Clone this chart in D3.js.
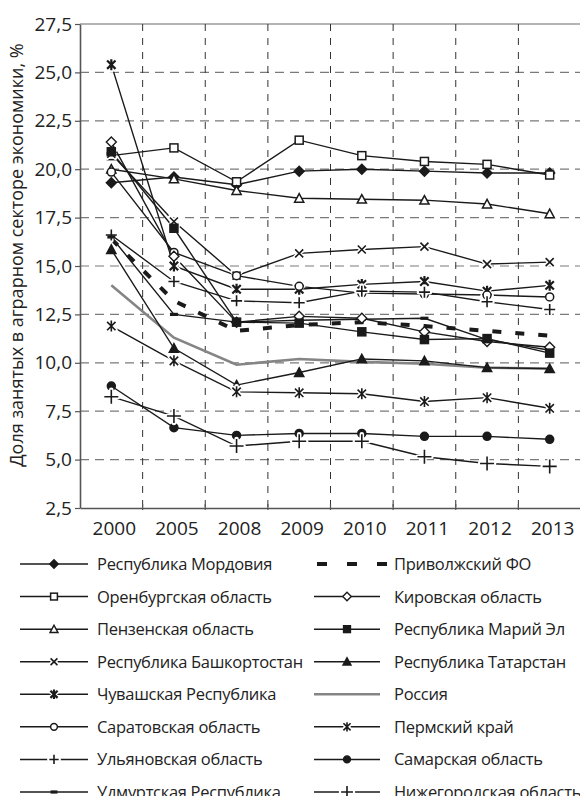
<!DOCTYPE html>
<html>
<head>
<meta charset="utf-8">
<script src="https://cdn.jsdelivr.net/npm/d3@7"></script>
<style>
  html, body { margin: 0; padding: 0; background: #fff; }
  svg { display: block; font-family: "Open Sans", "DejaVu Sans", sans-serif; }
</style>
</head>
<body>
<svg id="chart" width="580" height="796"></svg>
<script>
// Categories and axis ticks
const years = ["2000", "2005", "2008", "2009", "2010", "2011", "2012", "2013"];
const yTicks = [2.5, 5, 7.5, 10, 12.5, 15, 17.5, 20, 22.5, 25, 27.5];
const yTitle = "Доля занятых в аграрном секторе экономики, %";

// Share of employed in agriculture, %, by region
const mordovia      = [19.3, 19.6, 19.2, 19.9, 20.0, 19.9, 19.8, 19.8];
const orenburg      = [20.7, 21.1, 19.35, 21.5, 20.7, 20.4, 20.25, 19.7];
const penza         = [20.0, 19.5, 18.9, 18.5, 18.45, 18.4, 18.2, 17.7];
const bashkortostan = [20.8, 17.3, 14.5, 15.65, 15.85, 16.0, 15.1, 15.2];
const chuvashia     = [25.4, 15.0, 13.8, 13.8, 14.05, 14.2, 13.7, 14.0];
const saratov       = [19.85, 15.7, 14.5, 13.95, 13.6, 13.55, 13.5, 13.4];
const ulyanovsk     = [16.6, 14.2, 13.2, 13.1, 13.7, 13.65, 13.15, 12.75];
const udmurtia      = [16.5, 12.5, 12.1, 12.2, 12.25, 12.3, 11.2, 10.65];
const volgaFD       = [16.4, 13.2, 11.65, 11.95, 12.1, 11.9, 11.65, 11.4];
const kirov         = [21.4, 15.5, 12.1, 12.4, 12.3, 11.6, 11.1, 10.8];
const mariEl        = [20.9, 16.95, 12.1, 12.05, 11.6, 11.2, 11.25, 10.5];
const tatarstan     = [15.85, 10.75, 8.85, 9.5, 10.2, 10.1, 9.75, 9.7];
const russia        = [14.0, 11.3, 9.9, 10.2, 10.05, 9.95, 9.75, 9.7];
const perm          = [11.9, 10.1, 8.5, 8.45, 8.4, 8.0, 8.2, 7.65];
const samara        = [8.8, 6.65, 6.25, 6.35, 6.35, 6.2, 6.2, 6.05];
const nizhny        = [8.25, 7.25, 5.7, 5.95, 5.95, 5.15, 4.8, 4.65];

// Series: legend column 1 then column 2
const leftColumn = [
  { name: "Республика Мордовия",     values: mordovia,      marker: "diamondFilled" },
  { name: "Оренбургская область",    values: orenburg,      marker: "squareOpen" },
  { name: "Пензенская область",      values: penza,         marker: "triangleOpen" },
  { name: "Республика Башкортостан", values: bashkortostan, marker: "cross" },
  { name: "Чувашская Республика",    values: chuvashia,     marker: "starBold" },
  { name: "Саратовская область",     values: saratov,       marker: "circleOpen" },
  { name: "Ульяновская область",     values: ulyanovsk,     marker: "plus" },
  { name: "Удмуртская Республика",   values: udmurtia,      marker: "dash" }
];
const rightColumn = [
  { name: "Приволжский ФО",          values: volgaFD,   marker: null, style: "dashed" },
  { name: "Кировская область",       values: kirov,     marker: "diamondOpen" },
  { name: "Республика Марий Эл",     values: mariEl,    marker: "squareFilled" },
  { name: "Республика Татарстан",    values: tatarstan, marker: "triangleFilled" },
  { name: "Россия",                  values: russia,    marker: null, style: "gray" },
  { name: "Пермский край",           values: perm,      marker: "star" },
  { name: "Самарская область",       values: samara,    marker: "circleFilled" },
  { name: "Нижегородская область",   values: nizhny,    marker: "plusLarge" }
];

const svg = d3.select("#chart");
const ink = "#1a1a1a";
const textInk = "#222";
const plot = { left: 80, right: 581, top: 24, bottom: 508 };

const x = d3.scaleBand().domain(years).range([plot.left, plot.right]);
const y = d3.scaleLinear().domain([2.5, 27.5]).range([plot.bottom, plot.top]);
const cx = yr => x(yr) + x.bandwidth() / 2;

// Horizontal grid
svg.append("g").selectAll("line")
  .data(yTicks.filter(t => t > 2.5))
  .join("line")
  .attr("x1", plot.left).attr("x2", 580)
  .attr("y1", d => y(d)).attr("y2", d => y(d))
  .attr("stroke", d => d === 27.5 ? "#9a9a9a" : "#7a7a7a")
  .attr("stroke-width", d => d === 27.5 ? 1.6 : 1.2)
  .attr("stroke-dasharray", d => d === 27.5 ? null : "9,6");

// Vertical grid at category boundaries
svg.append("g").selectAll("line")
  .data(years.slice(1))
  .join("line")
  .attr("x1", d => x(d)).attr("x2", d => x(d))
  .attr("y1", plot.top).attr("y2", plot.bottom)
  .attr("stroke", "#333")
  .attr("stroke-width", 1)
  .attr("stroke-dasharray", "7,7");

// Y axis
const yAxis = svg.append("g")
  .attr("transform", `translate(${plot.left},0)`)
  .call(d3.axisLeft(y).tickValues(yTicks)
    .tickFormat(d => d3.format(".1f")(d).replace(".", ","))
    .tickSize(5).tickSizeOuter(0).tickPadding(3));
yAxis.select(".domain").attr("stroke", "#555").attr("stroke-width", 1.6);
yAxis.selectAll(".tick line").attr("stroke", "#555").attr("stroke-width", 1.2);
yAxis.selectAll(".tick text")
  .attr("font-size", 19).attr("fill", textInk)
  .attr("font-family", "'Open Sans', sans-serif");

// X axis: labels at band centres, tick marks at band boundaries
const xAxis = svg.append("g")
  .attr("transform", `translate(0,${plot.bottom})`)
  .call(d3.axisBottom(x).tickSize(0).tickSizeOuter(0).tickPadding(14));
xAxis.select(".domain").attr("stroke", "#555").attr("stroke-width", 1.6);
xAxis.selectAll(".tick text")
  .attr("font-size", 19).attr("fill", textInk)
  .attr("font-family", "'Open Sans', sans-serif")
  .attr("dx", 3);
xAxis.append("g").selectAll("line")
  .data(years.slice(1))
  .join("line")
  .attr("x1", d => x(d)).attr("x2", d => x(d))
  .attr("y1", -4).attr("y2", 2)
  .attr("stroke", "#555").attr("stroke-width", 1.2);

// Y axis title
svg.append("text")
  .attr("transform", `translate(23,255) rotate(-90)`)
  .attr("text-anchor", "middle")
  .attr("font-size", 18)
  .attr("fill", textInk)
  .text(yTitle);

// Marker shapes
function drawMarker(g, type, s) {
  const k = s || 1;
  const halo = (path, w) => {
    g.append("path").attr("d", path).attr("fill", "none")
      .attr("stroke", "#fff").attr("stroke-width", w + 3).attr("stroke-linecap", "round");
    g.append("path").attr("d", path).attr("fill", "none")
      .attr("stroke", ink).attr("stroke-width", w);
  };
  switch (type) {
    case "diamondFilled":
    case "diamondOpen": {
      const h = 5 * k;
      g.append("path").attr("d", `M0,${-h}L${h},0L0,${h}L${-h},0Z`)
        .attr("fill", type === "diamondFilled" ? ink : "#fff")
        .attr("stroke", ink).attr("stroke-width", 1.4);
      break;
    }
    case "squareOpen":
    case "squareFilled": {
      const h = 4 * k;
      g.append("rect").attr("x", -h).attr("y", -h).attr("width", 2 * h).attr("height", 2 * h)
        .attr("fill", type === "squareFilled" ? ink : "#fff")
        .attr("stroke", ink).attr("stroke-width", 1.5);
      break;
    }
    case "triangleOpen":
    case "triangleFilled": {
      const h = 4.6 * k;
      g.append("path").attr("d", `M0,${-h}L${h},${h * 0.85}L${-h},${h * 0.85}Z`)
        .attr("fill", type === "triangleFilled" ? ink : "#fff")
        .attr("stroke", ink).attr("stroke-width", 1.5);
      break;
    }
    case "circleOpen":
    case "circleFilled": {
      g.append("circle").attr("r", 4 * k)
        .attr("fill", type === "circleFilled" ? ink : "#fff")
        .attr("stroke", ink).attr("stroke-width", 1.5);
      break;
    }
    case "cross": {
      const h = 4 * k;
      halo(`M${-h},${-h}L${h},${h}M${h},${-h}L${-h},${h}`, 1.6);
      break;
    }
    case "star":
    case "starBold": {
      const h = 4.2 * k, v = 5.5 * k;
      halo(`M${-h},${-h}L${h},${h}M${h},${-h}L${-h},${h}M0,${-v}L0,${v}`,
        type === "starBold" ? 2.2 : 1.6);
      break;
    }
    case "plus":
    case "plusLarge": {
      const h = (type === "plusLarge" ? 7 : 5.5) * k;
      halo(`M${-h},0L${h},0M0,${-h}L0,${h}`, 1.6);
      break;
    }
    case "dash": {
      g.append("rect").attr("x", -4 * k).attr("y", -1.6).attr("width", 8 * k).attr("height", 3.2)
        .attr("fill", ink);
      break;
    }
  }
}

const allSeries = leftColumn.concat(rightColumn);
const line = d3.line().x((d, i) => cx(years[i])).y(d => y(d));

// Lines: gray aggregate first, the rest on top
const drawOrder = allSeries.filter(s => s.style === "gray")
  .concat(allSeries.filter(s => s.style !== "gray"));
const linesG = svg.append("g");
drawOrder.forEach(s => {
  const p = linesG.append("path").datum(s.values).attr("d", line).attr("fill", "none");
  if (s.style === "gray") {
    p.attr("stroke", "#858585").attr("stroke-width", 2.6);
  } else if (s.style === "dashed") {
    p.attr("stroke", ink).attr("stroke-width", 4).attr("stroke-dasharray", "9,14");
  } else {
    p.attr("stroke", ink).attr("stroke-width", 1.4);
  }
});

// Markers
const markG = svg.append("g");
allSeries.filter(s => s.marker).forEach(s => {
  s.values.forEach((v, i) => {
    const g = markG.append("g").attr("transform", `translate(${cx(years[i])},${y(v)})`);
    drawMarker(g, s.marker, 1);
  });
});

// Legend
const rowY = d3.scaleLinear().domain([0, 7]).range([564, 792]);
function legendColumn(items, x0, x1, tx) {
  items.forEach((s, i) => {
    const yy = rowY(i);
    const g = svg.append("g");
    if (s.style === "dashed") {
      g.append("line").attr("x1", x0 + 3).attr("x2", x1 + 8).attr("y1", yy).attr("y2", yy)
        .attr("stroke", ink).attr("stroke-width", 4).attr("stroke-dasharray", "10,20");
    } else if (s.style === "gray") {
      g.append("line").attr("x1", x0).attr("x2", x1).attr("y1", yy).attr("y2", yy)
        .attr("stroke", "#858585").attr("stroke-width", 2.6);
    } else {
      g.append("line").attr("x1", x0).attr("x2", x1).attr("y1", yy).attr("y2", yy)
        .attr("stroke", ink).attr("stroke-width", 1.5);
      const m = g.append("g").attr("transform", `translate(${(x0 + x1) / 2},${yy})`);
      drawMarker(m, s.marker, 0.85);
    }
    svg.append("text").attr("x", tx).attr("y", yy + 6)
      .attr("font-size", 16.5).attr("letter-spacing", -0.3).attr("fill", textInk)
      .text(s.name);
  });
}
legendColumn(leftColumn, 20, 88, 97);
legendColumn(rightColumn, 314, 380, 394);
</script>
</body>
</html>
